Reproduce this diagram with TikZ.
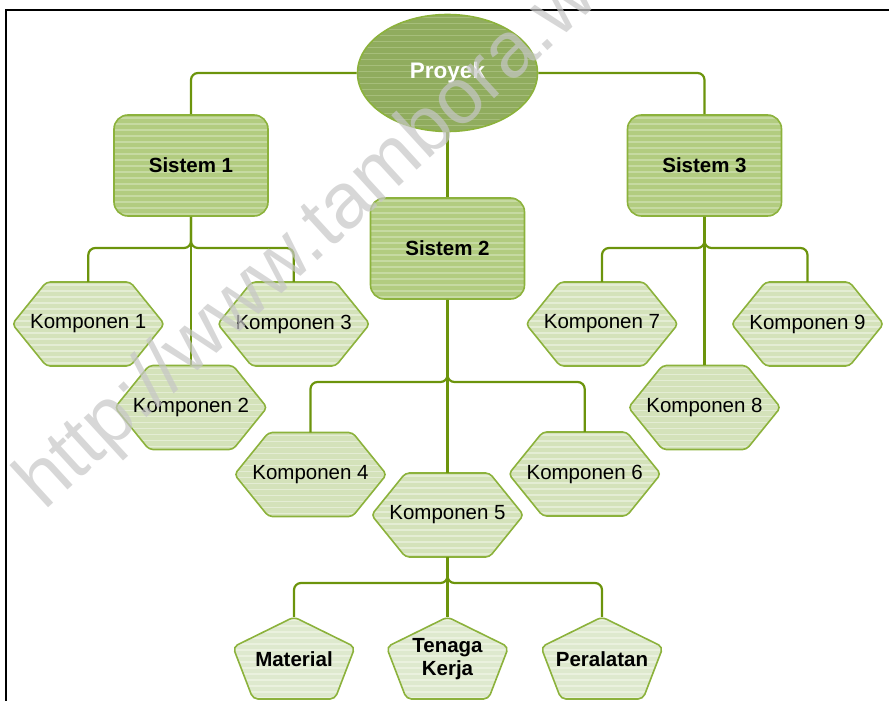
\documentclass[tikz,border=0pt]{standalone}
\usepackage{fontspec}
\setmainfont{Liberation Sans}
\usetikzlibrary{calc,backgrounds,shapes.geometric}
\definecolor{lineg}{RGB}{108,148,12}
\definecolor{bord}{RGB}{140,178,60}
\definecolor{komfill}{RGB}{212,226,186}
\definecolor{komstripe}{RGB}{228,237,212}
\definecolor{sisfill}{RGB}{178,204,128}
\definecolor{sisstripe}{RGB}{198,218,162}
\definecolor{proyfill}{RGB}{144,172,94}
\definecolor{proystripe}{RGB}{166,190,122}
\definecolor{pentfill}{RGB}{222,233,206}
\definecolor{pentstripe}{RGB}{234,241,222}
\definecolor{wmgray}{RGB}{198,198,198}
\tikzset{
  stripes/.style={path picture={\foreach \k in {0,...,40}{\draw[draw=#1,line width=1.5pt] ([yshift=-\k*6pt-3pt]path picture bounding box.north west) -- ([yshift=-\k*6pt-3pt]path picture bounding box.north east);}}},
  conn/.style={draw=lineg,line width=2.2pt,rounded corners=7pt},
  sistem/.style={rectangle,rounded corners=14pt,draw=bord,line width=1.6pt,fill=sisfill,stripes=sisstripe,minimum width=154pt,minimum height=101pt,inner sep=0pt,font=\bfseries\fontsize{20.5}{24}\selectfont},
  proyek/.style={ellipse,draw=bord,line width=1.6pt,fill=proyfill,stripes=proystripe,minimum width=180pt,minimum height=117pt,inner sep=0pt,text=white,font=\bfseries\fontsize{22.5}{26}\selectfont},
  kbox/.style={rectangle,inner sep=0pt,minimum width=152pt,minimum height=84pt,font=\fontsize{20.5}{24}\selectfont},
  pbox/.style={rectangle,inner sep=0pt,minimum width=122pt,minimum height=84pt,align=center,font=\bfseries\fontsize{20.5}{23}\selectfont},
  hexshape/.style={draw=bord,line width=1.6pt,fill=komfill,stripes=komstripe,rounded corners=4pt},
  pentshape/.style={draw=bord,line width=1.6pt,fill=pentfill,stripes=pentstripe,rounded corners=5pt},
  frameline/.style={draw=black,line width=2pt},
  watermark/.style={text=wmgray,text opacity=0.7,font=\fontsize{79}{80}\selectfont,rotate=42.5,anchor=base west,inner sep=0pt}
}
\newcommand\HexShape[1]{\path[hexshape] ($(#1.center)+(-76,0)$) -- ($(#1.center)+(-42,-42)$) -- ($(#1.center)+(42,-42)$) -- ($(#1.center)+(76,0)$) -- ($(#1.center)+(42,42)$) -- ($(#1.center)+(-42,42)$) -- cycle;}
\newcommand\PentShape[1]{\path[pentshape] ($(#1.center)+(0,-42)$) -- ($(#1.center)+(61,-12)$) -- ($(#1.center)+(41,40)$) -- ($(#1.center)+(-41,40)$) -- ($(#1.center)+(-61,-12)$) -- cycle;}
\begin{document}
\begin{tikzpicture}[x=1pt,y=-1pt]
\useasboundingbox (0,0) rectangle (889,701);
\draw[frameline] (6,702) -- (6,10) -- (890,10);

\node[proyek] (proy) at (447.5,73) {Proyek};
\node[sistem] (s1) at (191,165.5) {Sistem 1};
\node[sistem] (s2) at (447.5,248.5) {Sistem 2};
\node[sistem] (s3) at (704.5,165.5) {Sistem 3};

\node[kbox] (k1) at (88.3,324) {Komponen 1};
\node[kbox] (k2) at (191,407.5) {Komponen 2};
\node[kbox] (k3) at (293.7,324) {Komponen 3};
\node[kbox] (k4) at (310.5,474.5) {Komponen 4};
\node[kbox] (k5) at (447.5,515) {Komponen 5};
\node[kbox] (k6) at (584.7,474) {Komponen 6};
\node[kbox] (k7) at (602,324) {Komponen 7};
\node[kbox] (k8) at (704.5,407.5) {Komponen 8};
\node[kbox] (k9) at (807.5,324) {Komponen 9};

\node[pbox] (mat) at (294,659) {Material};
\node[pbox] (ten) at (447.5,659) {Tenaga\\Kerja};
\node[pbox] (per) at (602,659) {Peralatan};

\begin{scope}[on background layer]
\HexShape{k1}\HexShape{k2}\HexShape{k3}
\HexShape{k4}\HexShape{k5}\HexShape{k6}
\HexShape{k7}\HexShape{k8}\HexShape{k9}
\PentShape{mat}\PentShape{ten}\PentShape{per}
\end{scope}

\coordinate (b1) at (191,248);
\coordinate (b2) at (447.5,382);
\coordinate (b3) at (704.5,248);
\coordinate (b4) at (447.5,583);

\draw[conn] (proy.west) -| (s1.north);
\draw[conn] (proy.east) -| (s3.north);
\draw[conn] (proy.south) -- (s2.north);

\draw[conn] (s1.south) -- (b1) -| (k1.north);
\draw[conn] (s1.south) -- (b1) -| (k3.north);
\draw[conn] (s1.south) -- (k2.north);

\draw[conn] (s2.south) -- (b2) -| (k4.north);
\draw[conn] (s2.south) -- (b2) -| (k6.north);
\draw[conn] (s2.south) -- (k5.north);

\draw[conn] (s3.south) -- (b3) -| (k7.north);
\draw[conn] (s3.south) -- (b3) -| (k9.north);
\draw[conn] (s3.south) -- (k8.north);

\draw[conn] (k5.south) -- (b4) -| (mat.north);
\draw[conn] (k5.south) -- (b4) -| (per.north);
\draw[conn] (k5.south) -- (ten.north);

\node[watermark] (wm) at (44,512) {http://www.tambora.wordpress.com};
\end{tikzpicture}
\end{document}
